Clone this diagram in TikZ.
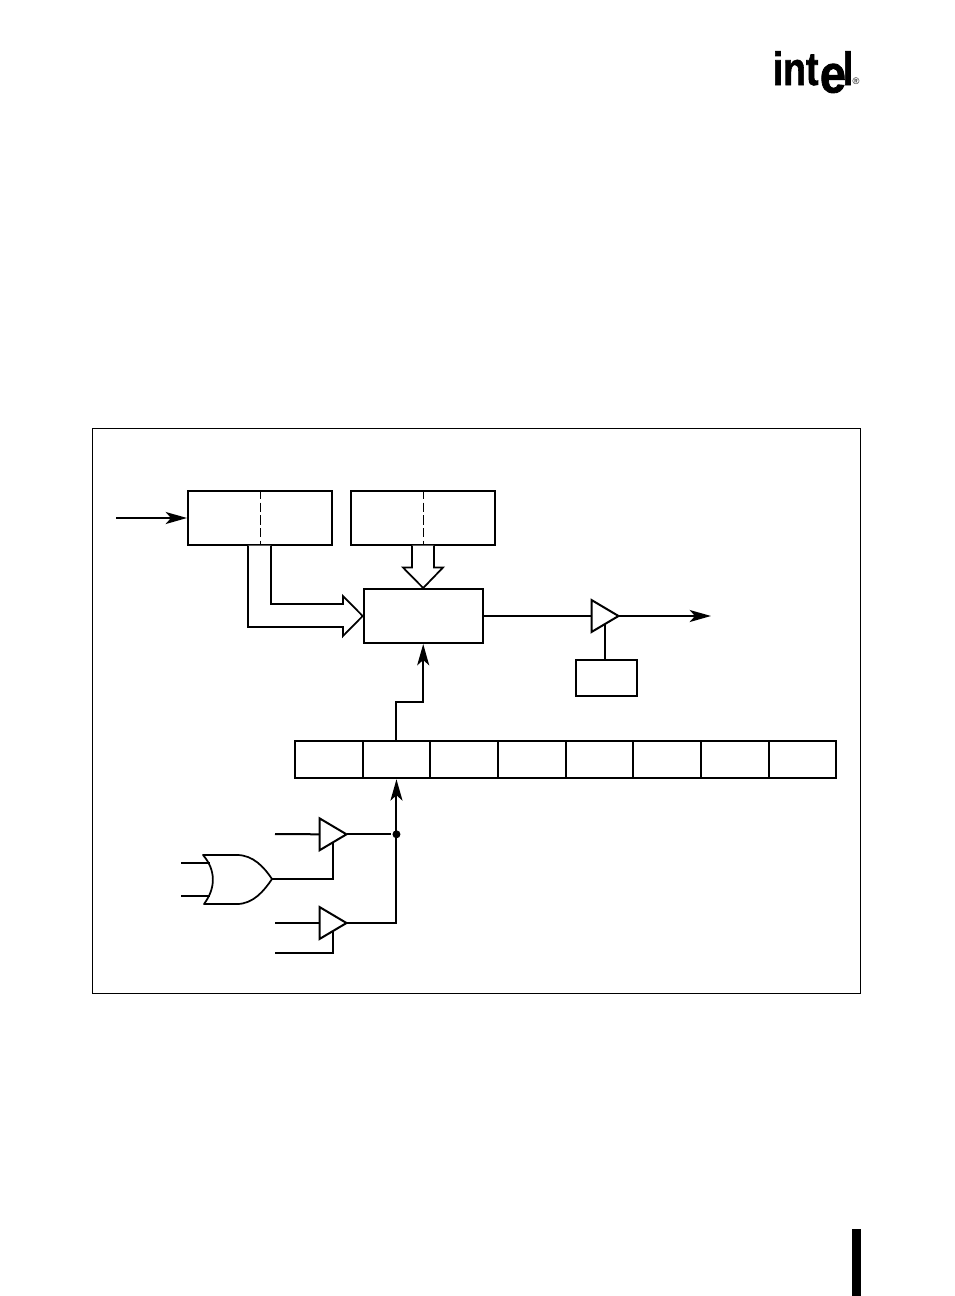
\documentclass[tikz,border=0pt]{standalone}
\usepackage{fontspec}
\setmainfont{Liberation Sans}
\newfontfamily\logofont[FakeBold=1.6]{Liberation Sans Bold}
\usetikzlibrary{arrows.meta,shapes.geometric}
\tikzset{
  blockbox/.style={draw, fill=white, inner sep=0pt, minimum width=#1},
  regcell/.style={draw, inner sep=0pt, minimum width=67.65*0.75pt, minimum height=37.5*0.75pt},
  buffer/.style={draw, fill=white, inner sep=0pt, outer sep=0pt, isosceles triangle, isosceles triangle stretches,
    minimum width=32*0.75pt, minimum height=27*0.75pt, anchor=apex},
  wire/.style={line width=1.5pt},
  flow/.style={wire, -{Stealth[length=16pt, width=9pt, inset=4pt]}},
  bus/.style={line width=1.3pt, fill=white, line join=miter},
  logo/.style={inner sep=0pt, anchor=base west, font=\logofont\fontsize{35}{35}\selectfont, xscale=0.8},
  logobig/.style={inner sep=0pt, anchor=base west, font=\logofont\fontsize{40}{40}\selectfont, xscale=0.88}
}
\begin{document}
\begin{tikzpicture}[x=0.75pt, y=-0.75pt, line width=1.5pt]

  \useasboundingbox (0,0) rectangle (954,1296);
  \fill[white] (0,0) rectangle (954,1296);

  % ---------------- page furniture ----------------
  \node[logo] (logoint) at (772,85) {int};
  \node[logobig] (logoe) at (819,92.5) {e};
  \node[logo] (logol) at (842,85) {l};
  \node[inner sep=0pt, font=\fontsize{7}{7}\selectfont] (logoreg) at (856,81) {®};
  \fill (851.5,1229) rectangle (860.5,1296);
  \draw[line width=0.5pt] (92.8,428.8) rectangle (860,993);

  % ---------------- upper blocks ----------------
  \node[blockbox=108pt, minimum height=40.5pt] (counta) at (260,518) {};
  \node[blockbox=108pt, minimum height=40.5pt] (countb) at (423,518) {};
  \node[blockbox=89.25pt, minimum height=40.5pt] (mixer) at (423.2,616) {};
  \node[blockbox=45.75pt, minimum height=27pt] (enable) at (606.5,678) {};
  \draw[line width=0.7pt, dash pattern=on 7pt off 2.5pt] (counta.north) -- (counta.south);
  \draw[line width=0.7pt, dash pattern=on 7pt off 2.5pt] (countb.north) -- (countb.south);

  % the input into the first block
  \coordinate (clkin) at (116,518);
  \draw[flow] (clkin) -- (counta.west);

  % hollow buses
  \draw[bus] (248,545.5) -- (248,627) -- (343,627) -- (343,636) -- (mixer.west)
    -- (343,596) -- (343,604) -- (271,604) -- (271,545.5);
  \draw[bus] (412,545.5) -- (412,567.5) -- (403,567.5) -- (mixer.north)
    -- (443,567.5) -- (434,567.5) -- (434,545.5);

  % ---------------- output stage ----------------
  \node[buffer] (outbuf) at (618.5,616) {};
  \coordinate (outpin) at (711,616);
  \draw[wire] (mixer.east) -- (outbuf.lower side);
  \draw[flow] (outbuf.apex) -- (outpin);
  \draw[wire] (outbuf.right side) -- (outbuf.right side |- enable.north);

  % ---------------- register ----------------
  \foreach \i in {1,...,8}
    \node[regcell] (reg\i) at ({295+67.65*(\i-0.5)},759.5) {};
  \draw[flow] (reg2.north) -- (reg2.north |- 0,702) -- (mixer.south |- 0,702) -- (mixer.south);

  % ---------------- lower gating ----------------
  \node[buffer] (bufa) at (346.5,834.3) {};
  \node[buffer] (bufb) at (346.5,923) {};
  \node[circle, fill, inner sep=0pt, minimum size=6pt] (joint) at (reg2.south |- bufa.apex) {};
  \coordinate (ina) at (275,834);
  \coordinate (inb) at (275,923);
  \coordinate (inc) at (275,953);
  \coordinate (orout) at (272,879);
  \draw[wire] (ina) -- (bufa.lower side);
  \draw[wire] (inb) -- (bufb.lower side);
  \draw[wire] (bufa.apex) -- (joint);
  \draw[flow] (bufb.apex) -- (bufb.apex -| reg2.south) -- (reg2.south);
  \draw[wire] (orout) -- (orout -| bufa.right side) -- (bufa.right side);
  \draw[wire] (inc) -- (inc -| bufb.right side) -- (bufb.right side);

  % the or gate
  \draw[line width=1.3pt, line join=round] (203,855) -- (237,855)
    .. controls (253,855) and (264,867) .. (orout)
    .. controls (264,891) and (253,904) .. (237,904) -- (204,904)
    .. controls (216,888) and (216,870) .. (203,855) -- cycle;
  \coordinate (orinu) at (181,863);
  \coordinate (orind) at (181,896);
  \draw[wire] (orinu) -- (210,863);
  \draw[wire] (orind) -- (210,896);

\end{tikzpicture}
\end{document}
